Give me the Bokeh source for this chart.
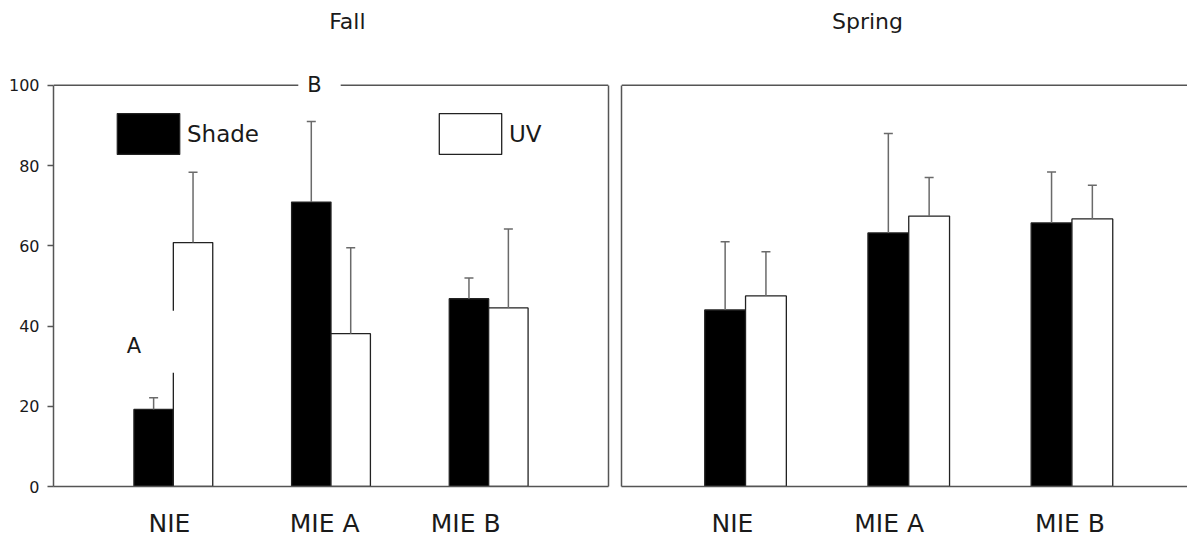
import numpy as np
from bokeh.plotting import figure
from bokeh.models import (ColumnDataSource, Range1d, LinearAxis, FixedTicker, Whisker,
                          TeeHead, Label, Legend, LegendItem, Span, CustomJSTickFormatter)
from bokeh.layouts import row
from bokeh.embed import file_html
from bokeh.resources import INLINE

# ---------------- data ----------------
categories = ["NIE", "MIE A", "MIE B"]
series = ["Shade", "UV"]
y_ticks = [0, 20, 40, 60, 80, 100]
panel_titles = ["Fall", "Spring"]

fall_shade = [19.2, 70.9, 46.8]
fall_shade_err = [2.9, 20.1, 5.2]
fall_uv = [60.8, 38.1, 44.5]
fall_uv_err = [17.5, 21.4, 19.7]

spring_shade = [44.0, 63.2, 65.7]
spring_shade_err = [17.0, 24.8, 12.7]
spring_uv = [47.5, 67.4, 66.7]
spring_uv_err = [11.0, 9.6, 8.4]

# ---------------- style ----------------
FONT = "DejaVu Sans"
TXT = "#1a1a1a"
AX = "#555555"
BAR_LINE = "#222222"
ERR = "#6a6a6a"
BAR_W = 0.25
Y_TOP = 121.14   # room above the 0-100 panel for titles/letters
# hand-placed category captions in the original sit slightly left of the bar pairs
fall_label_shift = [-0.025, -0.04, -0.146]
spring_label_shift = [-0.08, -0.12, -0.012]


def make_panel(title, title_x, shade, shade_err, uv, uv_err, label_shift, width, bl, br, x_end,
               show_y_labels, right_border):
    p = figure(width=width, height=540, x_range=Range1d(-0.76, x_end),
               y_range=Range1d(0, Y_TOP), title=None,
               output_backend="svg", toolbar_location=None,
               min_border_left=bl, min_border_right=br, min_border_top=0, min_border_bottom=53)
    p.outline_line_color = None
    p.xgrid.visible = False
    p.ygrid.visible = False
    p.background_fill_color = "white"

    idx = np.arange(len(categories))
    src_s = ColumnDataSource(dict(x=idx - BAR_W / 2, top=shade,
                                  upper=np.array(shade) + np.array(shade_err)))
    src_u = ColumnDataSource(dict(x=idx + BAR_W / 2, top=uv,
                                  upper=np.array(uv) + np.array(uv_err)))

    r_s = p.vbar(x="x", top="top", bottom=0, width=BAR_W, source=src_s,
                 fill_color="black", line_color=BAR_LINE, line_width=1.3)
    r_u = p.vbar(x="x", top="top", bottom=0, width=BAR_W, source=src_u,
                 fill_color="white", line_color=BAR_LINE, line_width=1.3)

    for src in (src_s, src_u):
        w = Whisker(source=src, base="x", lower="top", upper="upper", dimension="height",
                    line_color=ERR, line_width=1.5, lower_head=None,
                    upper_head=TeeHead(size=9, line_color=ERR, line_width=1.5),
                    level="glyph")
        p.add_layout(w)

    # x axis (category captions)
    xa = p.xaxis[0]
    xa.ticker = FixedTicker(ticks=[float(i + s) for i, s in zip(idx, label_shift)])
    xa.formatter = CustomJSTickFormatter(args=dict(cats=categories),
                                         code="return cats[index];")
    xa.major_tick_line_color = None
    xa.major_tick_out = 0
    xa.major_tick_in = 0
    xa.minor_tick_line_color = None
    xa.major_label_standoff = 22
    xa.major_label_text_font = FONT
    xa.major_label_text_font_size = "25px"
    xa.major_label_text_color = TXT
    xa.axis_line_color = AX
    xa.axis_line_width = 1.5

    # y axis
    ya = p.yaxis[0]
    ya.bounds = (0, 100)
    ya.axis_line_color = AX
    ya.axis_line_width = 1.5
    ya.minor_tick_line_color = None
    if show_y_labels:
        ya.ticker = FixedTicker(ticks=y_ticks)
        ya.major_tick_out = 6
        ya.major_tick_in = 0
        ya.major_tick_line_color = AX
        ya.major_tick_line_width = 1.3
        ya.major_label_standoff = 8
        ya.major_label_text_font = FONT
        ya.major_label_text_font_size = "16px"
        ya.major_label_text_color = TXT
    else:
        ya.ticker = FixedTicker(ticks=[])
        ya.major_tick_out = 0
        ya.major_tick_in = 0
        ya.major_label_standoff = 0

    # frame borders
    p.add_layout(Span(location=100, dimension="width", line_color=AX, line_width=1.5))
    if right_border:
        rax = LinearAxis(ticker=FixedTicker(ticks=[]), bounds=(0, 100), major_tick_out=0,
                         major_tick_in=0, minor_tick_out=0, minor_tick_in=0,
                         major_label_standoff=0, axis_line_color=AX, axis_line_width=1.5)
        p.add_layout(rax, "right")

    p.add_layout(Label(x=title_x, y=115.9, text=title, text_align="center",
                       text_baseline="middle", text_font=FONT, text_font_size="22px",
                       text_color=TXT))
    return p, r_s, r_u


p1, r1s, r1u = make_panel(panel_titles[0], 1.104, fall_shade, fall_shade_err, fall_uv, fall_uv_err,
                          fall_label_shift, width=614, bl=53, br=6, x_end=2.76,
                          show_y_labels=True, right_border=True)
p2, r2s, r2u = make_panel(panel_titles[1], 0.747, spring_shade, spring_shade_err, spring_uv,
                          spring_uv_err, spring_label_shift, width=573, bl=7, br=0, x_end=2.708,
                          show_y_labels=False, right_border=False)

# significance letters (white text boxes, as in the original)
p1.add_layout(Label(x=-0.221, y=36.07, text="A", text_align="center", text_baseline="middle",
                    text_font=FONT, text_font_size="21px", text_color=TXT,
                    background_fill_color="white",
                    padding=dict(left=26, right=35, top=23, bottom=15)))
p1.add_layout(Label(x=0.927, y=100, text="B", text_align="center", text_baseline="middle",
                    text_font=FONT, text_font_size="21px", text_color=TXT,
                    background_fill_color="white",
                    padding=dict(left=9, right=19, top=3, bottom=3)))

# legends
common = dict(glyph_width=78, glyph_height=51, label_standoff=0,
              padding=0, margin=0, spacing=0,
              border_line_color=None, background_fill_alpha=0,
              label_text_font=FONT, label_text_font_size="23px", label_text_color=TXT)
leg_s = Legend(items=[LegendItem(label=series[0], renderers=[r1s])], location=(56, 327), **common)
leg_u = Legend(items=[LegendItem(label=series[1], renderers=[r1u])], location=(378, 327), **common)
p1.add_layout(leg_s)
p1.add_layout(leg_u)

layout = row(p1, p2)
open("out.html", "w").write(file_html(layout, INLINE))
